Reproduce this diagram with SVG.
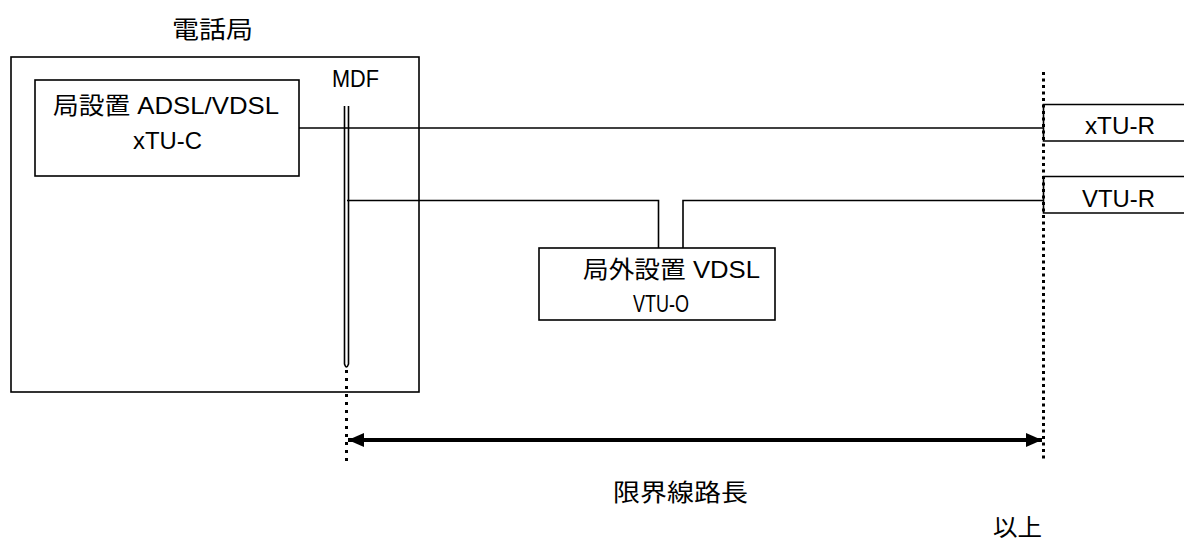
<svg xmlns="http://www.w3.org/2000/svg" width="1184" height="539" viewBox="0 0 1184 539">
<defs>
<style>
text{font-family:"Liberation Sans","Noto Sans CJK JP",sans-serif;font-size:24px;fill:#000}
.box{fill:#fff;stroke:#000;stroke-width:1.6}
.ln{fill:none;stroke:#000;stroke-width:1.6}
.dotL{stroke:#000;stroke-width:3;stroke-dasharray:3 5}
.dotR{stroke:#000;stroke-width:3;stroke-dasharray:3 3.5}
</style>
<marker id="ah" viewBox="0 0 16 14" refX="16" refY="7" markerWidth="16" markerHeight="14" markerUnits="userSpaceOnUse" orient="auto-start-reverse">
<path d="M0,0 L16,7 L0,14 Z" fill="#000"/>
</marker>
</defs>
<rect width="1184" height="539" fill="#fff"/>

<g id="office">
<rect class="box" x="11" y="57" width="408" height="335"/>
<text x="172" y="38" textLength="81" lengthAdjust="spacingAndGlyphs">電話局</text>
</g>

<g id="xtu-c">
<rect class="box" x="35" y="80" width="264" height="96"/>
<text x="53" y="114" textLength="226" lengthAdjust="spacingAndGlyphs">局設置 ADSL/VDSL</text>
<text x="133" y="149" textLength="69" lengthAdjust="spacingAndGlyphs">xTU-C</text>
</g>

<g id="mdf">
<text x="332" y="87" textLength="47" lengthAdjust="spacingAndGlyphs">MDF</text>
<path class="ln" d="M344.5,106 V364 Q346.5,370 348.5,364 V106"/>
</g>

<g id="vtu-o">
<rect class="box" x="539" y="248" width="236" height="72"/>
<text x="583" y="278" textLength="177" lengthAdjust="spacingAndGlyphs">局外設置 VDSL</text>
<text x="633" y="312" textLength="56" lengthAdjust="spacingAndGlyphs">VTU-O</text>
</g>

<g id="xtu-r">
<path class="ln" d="M1185,104.5 H1043.5 V141 H1185"/>
<text x="1085" y="134" textLength="70" lengthAdjust="spacingAndGlyphs">xTU-R</text>
</g>

<g id="vtu-r">
<path class="ln" d="M1185,176.5 H1043.5 V213 H1185"/>
<text x="1082" y="207" textLength="73" lengthAdjust="spacingAndGlyphs">VTU-R</text>
</g>

<g id="connectors">
<line class="ln" x1="299" y1="128" x2="1043" y2="128"/>
<path class="ln" d="M347,200.5 H658.5 V248"/>
<path class="ln" d="M683,248 V200.5 H1043"/>
<line class="dotL" x1="346.5" y1="370" x2="346.5" y2="461"/>
<line class="dotR" x1="1043.5" y1="72" x2="1043.5" y2="461"/>
<line x1="348" y1="440" x2="1042" y2="440" stroke="#000" stroke-width="4" marker-start="url(#ah)" marker-end="url(#ah)"/>
</g>

<g id="labels">
<text x="613" y="501" textLength="135" lengthAdjust="spacingAndGlyphs">限界線路長</text>
<text x="993" y="536" textLength="49" lengthAdjust="spacingAndGlyphs">以上</text>
</g>
</svg>
